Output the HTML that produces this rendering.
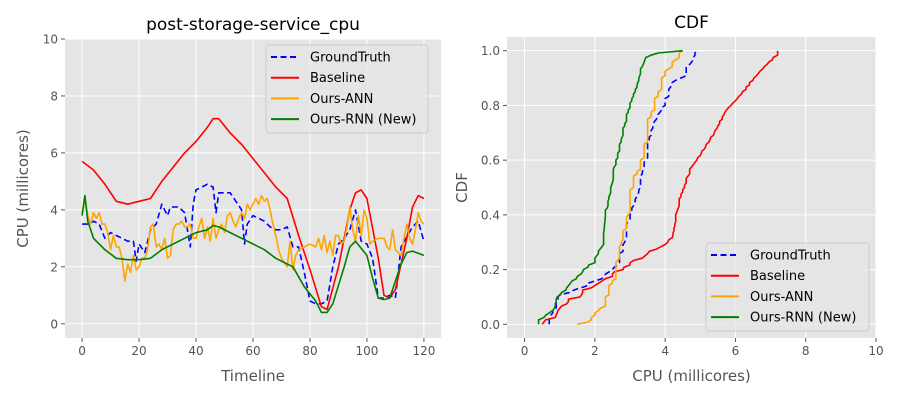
<!DOCTYPE html>
<html><head><meta charset="utf-8"><style>
body{margin:0;background:#fff;}
svg{font-family:"DejaVu Sans","Liberation Sans",sans-serif;}
</style></head><body>
<svg id="fig" width="900" height="400" viewBox="0 0 900 400" xmlns="http://www.w3.org/2000/svg"></svg>
<script>
// ---- data ----
const gtT = [0,2,4,6,8,10,12,14,16,18,19,20,22,24,26,28,30,31,34,36,38,39,40,42,44,46,47,48,52,54,56,57,58,60,64,66,68,70,72,74,76,78,80,82,84,86,88,90,92,94,96,98,100,102,104,106,108,110,112,116,118,120];
const gtV = [3.5,3.5,3.6,3.5,3.0,3.2,3.1,3.0,2.9,2.9,2.2,2.8,2.5,3.3,3.5,4.2,3.8,4.1,4.1,3.9,2.7,4.2,4.7,4.8,4.9,4.8,3.9,4.6,4.6,4.3,4.0,2.8,3.5,3.8,3.6,3.4,3.3,3.3,3.4,2.7,2.7,1.8,0.8,0.7,0.7,0.8,2.0,2.8,3.0,3.3,4.0,2.9,2.8,2.3,0.9,0.9,1.0,0.9,2.7,3.4,3.6,2.9];
const blT = [0,4,8,12,16,20,24,28,32,36,40,44,46,48,52,56,60,64,68,72,76,80,84,86,90,94,96,98,100,104,106,108,110,114,116,118,120];
const blV = [5.7,5.4,4.9,4.3,4.2,4.3,4.4,5.0,5.5,6.0,6.4,6.9,7.2,7.2,6.7,6.3,5.8,5.3,4.8,4.4,3.1,1.9,0.6,0.5,2.0,4.0,4.6,4.7,4.4,2.3,1.0,0.9,1.2,3.0,4.1,4.5,4.4];
const annT = [0,1,2,3,4,5,6,7,8,9,10,11,12,13,14,15,16,17,18,19,20,21,22,23,24,25,26,27,28,29,30,31,32,33,34,35,36,37,38,39,40,41,42,43,44,45,46,47,48,49,50,51,52,53,54,55,56,57,58,59,60,61,62,63,64,65,66,67,68,69,70,72,73,74,75,76,78,80,82,83,84,85,86,87,88,89,90,91,92,93,94,95,96,97,98,99,100,101,102,104,106,107,108,109,110,112,113,114,115,116,117,118,119,120];
const annV = [3.9,4.4,3.8,3.5,3.9,3.7,3.9,3.5,3.5,3.2,2.6,3.1,2.7,2.7,2.3,1.5,2.1,1.8,2.4,1.9,2.0,2.3,2.3,2.6,3.4,3.5,2.7,2.8,2.6,3.0,2.3,2.4,3.3,3.5,3.5,3.6,3.4,3.4,3.5,3.0,3.0,3.4,3.7,3.0,3.4,2.9,3.7,3.0,3.3,3.5,3.2,3.8,3.9,3.6,3.4,3.7,3.9,3.7,4.2,4.0,4.2,4.4,4.2,4.5,4.3,4.4,4.0,3.5,3.1,2.6,2.3,2.0,2.9,1.9,2.4,2.6,2.7,2.8,2.7,3.0,2.6,3.1,2.5,2.9,2.4,3.1,3.1,2.8,2.9,3.4,4.1,3.3,2.9,3.8,3.1,4.0,3.7,2.8,2.9,3.0,3.0,2.7,2.6,3.3,2.6,2.4,3.0,3.5,3.0,2.8,3.3,3.9,3.6,3.5];
const rnnT = [0,1,2,4,8,12,16,20,24,28,32,36,40,44,46,48,52,56,60,64,68,72,74,78,82,84,86,88,92,94,96,100,102,104,106,108,112,114,116,120];
const rnnV = [3.8,4.5,3.6,3.0,2.6,2.3,2.25,2.25,2.3,2.6,2.8,3.0,3.2,3.3,3.45,3.4,3.2,3.0,2.8,2.6,2.3,2.1,2.0,1.3,0.8,0.4,0.4,0.7,2.0,2.7,2.9,2.4,1.6,0.9,0.85,0.9,2.1,2.5,2.55,2.4];
const seriesNames = ["GroundTruth","Baseline","Ours-ANN","Ours-RNN (New)"];
const leftXTicks = [0,20,40,60,80,100,120];
const leftYTicks = [0,2,4,6,8,10];
const rightXTicks = [0,2,4,6,8,10];
const rightYTicks = [0,0.2,0.4,0.6,0.8,1.0];

const NS="http://www.w3.org/2000/svg";
const svg=document.getElementById('fig');
function mk(tag,attrs,parent){const e=document.createElementNS(NS,tag);for(const k in attrs)e.setAttribute(k,attrs[k]);(parent||svg).appendChild(e);return e;}
const series=[
 {t:gtT,v:gtV,color:"#0000ff",dash:"6,3.5",name:"ground-truth"},
 {t:blT,v:blV,color:"#ff0000",dash:null,name:"baseline"},
 {t:annT,v:annV,color:"#ffa500",dash:null,name:"ours-ann"},
 {t:rnnT,v:rnnV,color:"#008000",dash:null,name:"ours-rnn"}
];
function interp(t,v){const out=[];for(let x=0;x<=120;x++){let i=0;while(i<t.length-2&&t[i+1]<x)i++;const f=(x-t[i])/(t[i+1]-t[i]);out.push(v[i]+(v[i+1]-v[i])*Math.max(0,Math.min(1,f)));}return out;}

function axes(cfg){
 const {L,R,T,B,xmin,xmax,ymin,ymax}=cfg;
 const sx=x=>L+(x-xmin)/(xmax-xmin)*(R-L);
 const sy=y=>B-(y-ymin)/(ymax-ymin)*(B-T);
 const bg=mk('rect',{x:L,y:T,width:R-L,height:B-T,fill:'#e5e5e5'});
 
 
 cfg.xt.forEach(v=>{
  const g=mk('line',{x1:sx(v),x2:sx(v),y1:T,y2:B,stroke:'#fff','stroke-width':1});
  
  
  mk('line',{x1:sx(v),x2:sx(v),y1:B,y2:B+4,stroke:'#555'});
  const tx=mk('text',{x:sx(v),y:B+17,'text-anchor':'middle','font-size':12,fill:'#555'});
  tx.textContent=cfg.xfmt(v);
  
  
 });
 cfg.yt.forEach(v=>{
  const g=mk('line',{x1:L,x2:R,y1:sy(v),y2:sy(v),stroke:'#fff','stroke-width':1});
  
  
  mk('line',{x1:L-4,x2:L,y1:sy(v),y2:sy(v),stroke:'#555'});
  const tx=mk('text',{x:L-7,y:sy(v)+4.5,'text-anchor':'end','font-size':12,fill:'#555'});
  tx.textContent=cfg.yfmt(v);
  
  
 });
 const ti=mk('text',{x:(L+R)/2,y:T-9,'text-anchor':'middle','font-size':17,fill:'#000'});
 ti.textContent=cfg.title;
 
 
 const xl=mk('text',{x:(L+R)/2,y:B+43,'text-anchor':'middle','font-size':15,fill:'#555'});
 xl.textContent=cfg.xlabel;
 
 
 const yx=L-cfg.ylabOff, yy=(T+B)/2;
 const yl=mk('text',{x:yx,y:yy,'text-anchor':'middle','font-size':15,fill:'#555',transform:`rotate(-90 ${yx} ${yy})`});
 yl.textContent=cfg.ylabel;
 
 
 return {sx,sy};
}
function legend(x,y,w,id){
 const box=mk('rect',{x:x,y:y,width:w,height:88,rx:3,fill:'#e5e5e5','fill-opacity':0.8,stroke:'#cccccc'});
 
 
 series.forEach((s,i)=>{
  const ly=y+12+i*20.7;
  const a={x1:x+5,x2:x+33,y1:ly,y2:ly,stroke:s.color,'stroke-width':2};
  if(s.dash)a['stroke-dasharray']=s.dash;
  const ln=mk('line',a);
  
  
  const t=mk('text',{x:x+44,y:ly+4.5,'font-size':13,fill:'#000'});
  t.textContent=seriesNames[i];
  
  
 });
}
// left
const A=axes({id:'timeline',L:65,R:441,T:39,B:338,xmin:-6,xmax:126,ymin:-0.5,ymax:10,xt:leftXTicks,yt:leftYTicks,xfmt:v=>String(v),yfmt:v=>String(v),title:'post-storage-service_cpu',xlabel:'Timeline',ylabel:'CPU (millicores)',ylabOff:37});
const full=series.map(s=>interp(s.t,s.v));
series.forEach((s,i)=>{
 const d=s.t.map((t,j)=>(j?'L':'M')+A.sx(t).toFixed(1)+','+A.sy(s.v[j]).toFixed(1)).join('');
 const a={d:d,fill:'none',stroke:s.color,'stroke-width':1.6,'stroke-linejoin':'round'};
 if(s.dash)a['stroke-dasharray']=s.dash;
 const p=mk('path',a);
 
 
});
legend(266,45,162,'timeline-legend');
// right
const B2=axes({id:'cdf',L:507,R:876,T:37,B:338,xmin:-0.5,xmax:10,ymin:-0.05,ymax:1.05,xt:rightXTicks,yt:rightYTicks,xfmt:v=>String(v),yfmt:v=>v.toFixed(1),title:'CDF',xlabel:'CPU (millicores)',ylabel:'CDF',ylabOff:40});
series.forEach((s,i)=>{
 const vals=full[i].slice().sort((a,b)=>a-b);const n=vals.length;
 const d=vals.map((v,j)=>(j?'L':'M')+B2.sx(v).toFixed(1)+','+B2.sy(j/(n-1)).toFixed(1)).join('');
 const a={d:d,fill:'none',stroke:s.color,'stroke-width':1.6,'stroke-linejoin':'round'};
 if(s.dash)a['stroke-dasharray']=s.dash;
 const p=mk('path',a);
 
 
});
legend(706,243,163,'cdf-legend');
</script>
</body></html>
